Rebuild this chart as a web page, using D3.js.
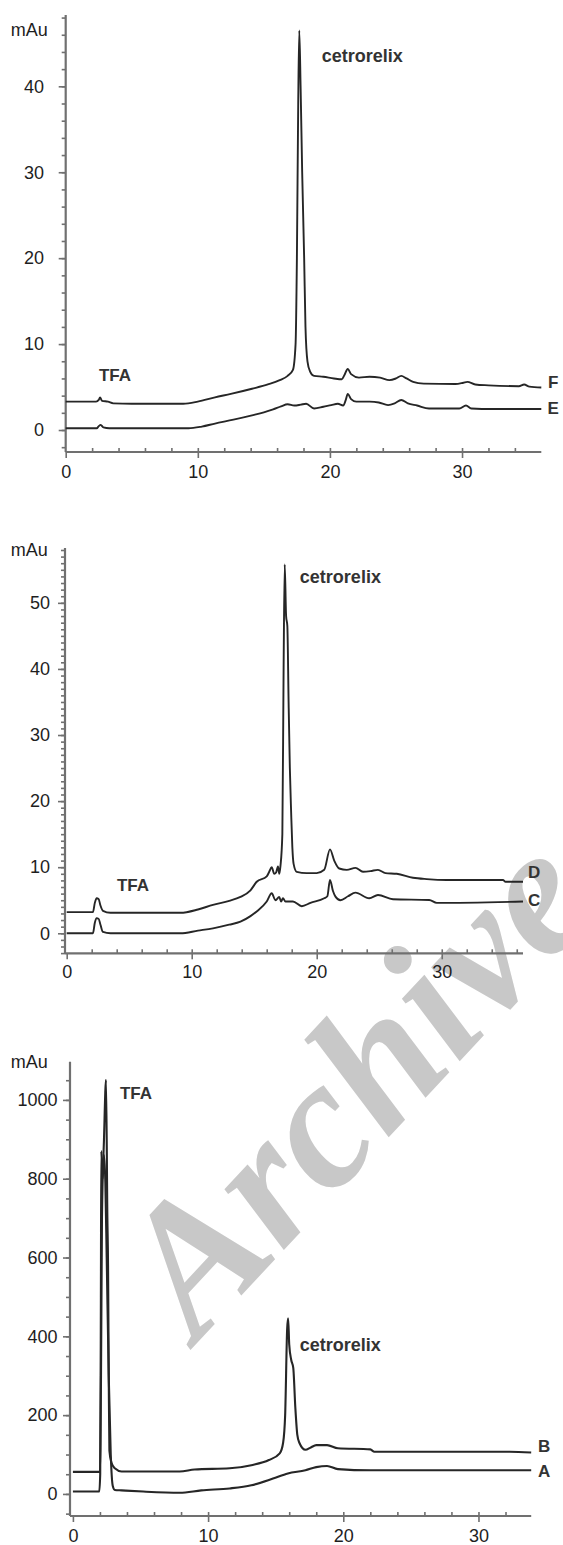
<!DOCTYPE html>
<html>
<head>
<meta charset="utf-8">
<script src="https://cdn.jsdelivr.net/npm/d3@7"></script>
<style>
  html, body { margin: 0; padding: 0; background: #fff; }
  svg { display: block; }
  .tick text { font-family: "Liberation Sans", Arial, sans-serif; font-size: 18px; fill: #1e1e1e; }
</style>
</head>
<body>
<svg id="chart" width="563" height="1545"></svg>
<script>
// ---- data: [retention time (min), absorbance (mAu)] ----

// top panel: F (upper) and E (lower)
const traceF = [[0,3.3],[2.3,3.3],[2.5,3.5],[2.6,3.8],[2.75,3.4],[3.2,3.3],[3.6,3.1],[5,3.05],[8.9,3.05],[10,3.3],
  [11.3,3.8],[12.5,4.2],[14.1,4.8],[15.3,5.3],[16.2,5.8],[16.8,6.3],[17.2,7.0],[17.4,10],[17.5,20],[17.6,38],
  [17.68,46.5],[17.78,40],[17.9,30],[18.05,20],[18.15,12],[18.3,8],[18.5,6.8],[18.8,6.3],[19.5,6.2],[20.3,6.0],
  [20.9,5.9],[21.1,6.4],[21.35,7.1],[21.6,6.5],[22.2,6.1],[23.0,6.2],[23.8,6.1],[24.5,5.8],[25.0,6.0],[25.4,6.3],
  [25.8,6.0],[26.3,5.6],[27.1,5.4],[29.5,5.35],[30.1,5.5],[30.4,5.6],[31.0,5.3],[32,5.2],[34.3,5.1],[34.7,5.3],
  [35.1,5.05],[36,4.95]];
const traceE = [[0,0.2],[2.35,0.2],[2.5,0.45],[2.65,0.6],[2.85,0.3],[3.3,0.2],[9.3,0.2],[10.3,0.4],[11.3,0.75],
  [12.7,1.2],[14.1,1.7],[15.0,2.05],[15.7,2.4],[16.3,2.75],[16.8,3.0],[17.3,2.85],[17.8,2.95],[18.2,3.05],[18.8,2.5],
  [19.5,2.7],[20.1,2.9],[20.6,3.05],[21.0,2.85],[21.2,3.5],[21.35,4.2],[21.6,3.6],[22.0,3.3],[23.0,3.3],[23.7,3.2],
  [24.4,2.9],[24.9,3.1],[25.4,3.5],[25.9,3.1],[26.6,2.85],[27.5,2.5],[29.8,2.5],[30.3,2.85],[30.7,2.5],[31.5,2.45],[36,2.45]];

// middle panel: D (upper) and C (lower)
const traceD = [[0,3.2],[2.1,3.2],[2.25,4.6],[2.4,5.3],[2.55,5.2],[2.7,4.2],[2.9,3.4],[3.5,3.1],[9.1,3.1],[10.5,3.6],[11.7,4.3],
  [13.0,4.9],[13.9,5.5],[14.7,6.5],[15.2,7.8],[16.0,8.6],[16.2,9.3],[16.4,10.0],[16.6,9.0],[16.75,9.2],[16.9,10.1],
  [17.0,9.0],[17.1,10.2],[17.25,15],[17.35,40],[17.44,55.8],[17.55,48],[17.65,46.5],[17.75,35],[17.85,25],[17.95,18.5],
  [18.05,13],[18.15,10.5],[18.4,9.3],[19.2,9.1],[20.0,9.1],[20.6,9.6],[21.06,12.7],[21.4,11.0],[21.8,9.8],[22.4,9.6],
  [23.1,9.9],[23.7,9.3],[24.3,9.4],[24.9,9.6],[25.5,9.1],[26.4,9.0],[27.7,8.4],[28.8,8.2],[30.4,8.07],[34.9,8.07],
  [35.1,7.8],[36.5,7.8]];
const traceC = [[0,0],[2.1,0],[2.25,1.6],[2.4,2.27],[2.55,2.2],[2.7,1.3],[2.9,0.2],[3.5,0],[9.1,0],[10.5,0.4],[11.7,0.75],
  [13.0,1.3],[13.9,1.76],[14.7,2.6],[15.2,3.3],[16.0,4.8],[16.4,6.05],[16.7,5.0],[17.0,5.5],[17.15,4.8],[17.3,5.3],
  [17.5,4.8],[18.1,4.8],[18.8,4.1],[19.5,4.6],[20.6,5.3],[20.85,5.6],[21.06,8.07],[21.3,6.4],[21.5,5.55],[21.9,5.0],
  [22.5,5.6],[23.1,6.15],[24.2,5.3],[24.9,5.8],[26.1,5.15],[29.0,5.04],[29.6,4.6],[36.5,4.8]];

// bottom panel: B (upper) and A (lower)
const traceB = [[0,56],[2.0,56],[2.08,300],[2.15,700],[2.3,900],[2.45,1051],[2.55,700],[2.6,580],[2.65,300],[2.7,110],
  [2.85,80],[3.1,65],[3.6,57],[7.9,57],[9.0,62],[11.6,65],[13.2,73],[14.5,86],[15.3,103],[15.55,130],[15.7,200],
  [15.85,420],[15.92,446],[16.0,380],[16.15,340],[16.3,320],[16.45,221],[16.6,150],[16.75,130],[17.2,112],[17.6,118],
  [18.0,124],[18.8,124],[19.6,116],[22,113],[22.3,107],[32.3,107],[33.9,105]];
const traceA = [[0,6],[1.95,6],[2.02,50],[2.07,500],[2.1,870],[2.2,800],[2.3,860],[2.4,790],[2.5,600],[2.65,300],
  [2.8,100],[2.95,20],[3.1,10],[3.6,9],[5.2,6],[7.9,3],[9.5,9],[11.6,14],[13.2,22],[14.8,39],[15.9,52],[17.2,60],
  [18.0,68],[18.8,71],[19.6,63],[22,60],[33.9,60]];

// tick labels
const xTicks = [0, 10, 20, 30];
const yTicksTop = [0, 10, 20, 30, 40];
const yTicksMid = [0, 10, 20, 30, 40, 50];
const yTicksBottom = [0, 200, 400, 600, 800, 1000];

// annotations: [text, time, mAu, anchor]
const labelsTop = [["TFA", 3.73, 6.4, "middle"], ["cetrorelix", 19.38, 43.6, "start"], ["F", 36.9, 5.6, "middle"], ["E", 36.9, 2.6, "middle"]];
const labelsMid = [["TFA", 5.3, 7.3, "middle"], ["cetrorelix", 18.65, 53.9, "start"], ["D", 37.4, 9.2, "middle"], ["C", 37.4, 5.0, "middle"]];
const labelsBottom = [["TFA", 3.48, 1018, "start"], ["cetrorelix", 16.78, 378, "start"], ["B", 34.85, 122, "middle"], ["A", 34.85, 57, "middle"]];

const unitLabel = "mAu";

// ---- layout of the three stacked panels ----
const panels = [
  { traces: [traceF, traceE], labels: labelsTop, yTicks: yTicksTop, xMax: 36, xRange: [65.7, 541.3],
    yDomain: [-2.56, 48.3], yRange: [452, 15], axisX: 65.7, yMinor: 2, yPad: 14.7, xPad: 7.3, unitY: 29.3, lineW: 1.9 },
  { traces: [traceD, traceC], labels: labelsMid, yTicks: yTicksMid, xMax: 36.5, xRange: [66.7, 523],
    yDomain: [-3.03, 58.3], yRange: [953.3, 548], axisX: 65, yMinor: 1, yPad: 8, xPad: 6, unitY: 549.3, lineW: 1.9 },
  { traces: [traceB, traceA], labels: labelsBottom, yTicks: yTicksBottom, xMax: 33.9, xRange: [72.9, 531.2],
    yDomain: [-56, 1097], yRange: [1516, 1061.7], axisX: 70, yMinor: 50, yPad: 5.5, xPad: 7.2, unitY: 1061.7, lineW: 2.1 }
];

const svg = d3.select("#chart");

// grey "Archive" watermark sits behind everything
svg.append("text")
  .attr("transform", "translate(197,1343) rotate(-47)")
  .attr("font-family", "'Liberation Serif', 'Times New Roman', serif")
  .attr("font-weight", "bold")
  .attr("font-style", "italic")
  .attr("font-size", 185)
  .attr("fill", "#c8c8c8")
  .text("Archive");

const axisColor = "#707070";

panels.forEach(p => {
  let x = d3.scaleLinear().domain([0, p.xMax]).range(p.xRange);
  let y = d3.scaleLinear().domain(p.yDomain).range(p.yRange);
  let g = svg.append("g");
  let baseY = p.yRange[0];

  // minor ticks on the y axis
  g.append("g")
    .attr("transform", `translate(${p.axisX},0)`)
    .call(d3.axisLeft(y).tickValues(d3.range(Math.ceil(p.yDomain[0] / p.yMinor) * p.yMinor, p.yDomain[1], p.yMinor))
      .tickSize(4).tickFormat(""))
    .call(a => a.select(".domain").remove());

  // major ticks + labels on the y axis
  g.append("g")
    .attr("transform", `translate(${p.axisX},0)`)
    .call(d3.axisLeft(y).tickValues(p.yTicks).tickSize(7).tickPadding(p.yPad).tickFormat(d3.format("d")))
    .call(a => a.select(".domain").remove());

  // minor ticks (upward) on the x axis
  g.append("g")
    .attr("transform", `translate(0,${baseY})`)
    .call(d3.axisTop(x).tickValues(d3.range(2, p.xMax, 2)).tickSize(4).tickFormat(""))
    .call(a => a.select(".domain").remove());

  // major ticks + labels on the x axis
  g.append("g")
    .attr("transform", `translate(0,${baseY})`)
    .call(d3.axisBottom(x).tickValues(xTicks).tickSize(6).tickPadding(p.xPad).tickFormat(d3.format("d")))
    .call(a => a.select(".domain").remove());

  g.selectAll(".tick line").attr("stroke", axisColor).attr("stroke-width", 1.6);

  // axis lines
  g.append("line")
    .attr("x1", p.axisX).attr("x2", p.axisX)
    .attr("y1", p.yRange[1]).attr("y2", baseY)
    .attr("stroke", axisColor).attr("stroke-width", 2.2);
  g.append("line")
    .attr("x1", p.axisX).attr("x2", p.xRange[1])
    .attr("y1", baseY).attr("y2", baseY)
    .attr("stroke", axisColor).attr("stroke-width", 2.2);

  // unit label
  g.append("text")
    .attr("x", 10.8).attr("y", p.unitY).attr("dy", "0.35em")
    .attr("font-family", "'Liberation Sans', Arial, sans-serif")
    .attr("font-size", 18).attr("fill", "#1e1e1e")
    .text(unitLabel);

  // chromatogram traces
  let line = d3.line().curve(d3.curveMonotoneX).x(d => x(d[0])).y(d => y(d[1]));
  g.selectAll("path.trace")
    .data(p.traces)
    .join("path")
    .attr("class", "trace")
    .attr("d", line)
    .attr("fill", "none")
    .attr("stroke", "#262626")
    .attr("stroke-width", p.lineW)
    .attr("stroke-linejoin", "round");

  // peak / trace annotations
  g.selectAll("text.note")
    .data(p.labels)
    .join("text")
    .attr("class", "note")
    .attr("x", d => x(d[1]))
    .attr("y", d => y(d[2]))
    .attr("dy", "0.35em")
    .attr("text-anchor", d => d[3])
    .attr("font-family", "'Liberation Sans', Arial, sans-serif")
    .attr("font-weight", "bold")
    .attr("font-size", d => d[0] === "cetrorelix" ? 18 : 17)
    .attr("fill", "#333")
    .text(d => d[0]);
});
</script>
</body>
</html>
